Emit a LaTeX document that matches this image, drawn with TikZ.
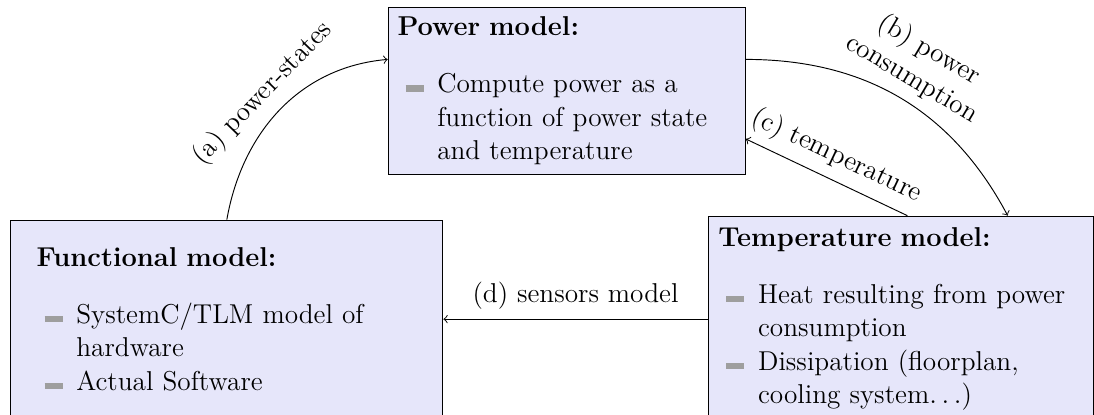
\documentclass[tikz,border=0pt,12pt]{standalone}
\usepackage{xcolor}
\usepackage{tikz}
\definecolor{lavender}{HTML}{E6E6FA}
\definecolor{gray400}{HTML}{9E9E9E}
\usetikzlibrary{arrows}
\hyphenpenalty=10000
\exhyphenpenalty=10000
\tikzstyle{model}=[rectangle, draw=black, fill=lavender, align=left, inner ysep=4pt]
\tikzstyle{link}=[draw=black, ->]
\newcommand{\modelitem}[1]{\par\noindent\hangindent=16.9pt\hangafter=1\hbox to 16.9pt{\hskip3.4pt\textcolor{gray400}{\rule[0.5pt]{7.7pt}{2.7pt}}\hfil}#1\par}

\begin{document}
\begin{tikzpicture}[font=\fontsize{11.6}{14.2}\selectfont]
			\useasboundingbox (0,0) rectangle (16.35,6.19);
			\node[model, text width=143.9pt, inner xsep=4pt, minimum height=2.48cm] (power) at (8.47,4.83)
				{\textbf{Power model:}\par\vspace{10pt}
				\modelitem{Compute power as a function of power state and temperature}};
			\node[model, text width=161.8pt, inner xsep=11pt, minimum height=2.96cm] (functional) at (3.39,1.42)
				{\textbf{Functional model:}\par\vspace{10pt}
				\modelitem{SystemC/TLM model of hardware}
				\modelitem{Actual Software}};
			\node[model, text width=155pt, inner xsep=4.4pt, minimum height=3.08cm] (temperature) at (13.46,1.42)
				{\textbf{Temperature model:}\par\vspace{10pt}
				\modelitem{Heat resulting from power consumption}
				\modelitem{Dissipation (floorplan, cooling system$\ldots$)}};
			\path[link]
				(functional.north) to[out=80,in=185] node[midway, sloped, above] {(a) power-states} (power.170);
			\path[link]
				(power.10) to[out=0,in=118] node[midway, sloped, above, align=center] {(b) power\\consumption} ([xshift=1.6cm]temperature.north);
			\path[link]
				([xshift=0.1cm]temperature.north) -- node[midway, sloped, above] {(c) temperature} (power.-15);
			\path[link]
				(temperature) -- node[midway, above] {(d) sensors model} (functional);
		\end{tikzpicture}
\end{document}
